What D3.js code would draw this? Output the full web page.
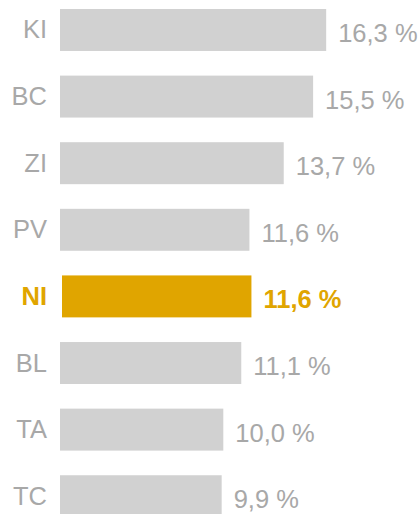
<!DOCTYPE html>
<html>
<head>
<meta charset="utf-8">
<script src="https://cdn.jsdelivr.net/npm/d3@7"></script>
<style>
  html, body { margin: 0; padding: 0; background: #fff; }
  svg { display: block; }
  text { font-family: "Liberation Sans", Arial, sans-serif; }
</style>
</head>
<body>
<svg id="chart" width="420" height="514"></svg>
<script>
// Share by region, in percent
const categories = ["KI", "BC", "ZI", "PV", "NI", "BL", "TA", "TC"];
const values = [16.3, 15.5, 13.7, 11.6, 11.6, 11.1, 10.0, 9.9];
const highlighted = "NI";

const data = categories.map((c, i) => ({ cat: c, value: values[i] }));

const svg = d3.select("#chart");

const barLeft = 60;
const x = d3.scaleLinear().domain([0, 20]).range([barLeft, barLeft + 20 * 16.33]);
const y = d3.scaleBand().domain(categories).range([9, 517.2]).paddingInner(0.37).paddingOuter(0);

const grey = "#d1d1d1";
const greyText = "#a8a8a8";
const gold = "#e0a500";
const fontSize = 25.5;

const locale = d3.formatLocale({ decimal: ",", thousands: " ", grouping: [3], currency: ["", ""] });
const fmt = v => locale.format(".1f")(v) + " %";

const isHi = d => d.cat === highlighted;
const hiShift = 2;

// bars
svg.append("g").selectAll("rect")
  .data(data)
  .join("rect")
  .attr("x", d => x(0) + (isHi(d) ? hiShift : 0))
  .attr("y", d => y(d.cat))
  .attr("width", d => x(d.value) - x(0))
  .attr("height", y.bandwidth())
  .attr("fill", d => isHi(d) ? gold : grey);

// category labels
svg.append("g").selectAll("text")
  .data(data)
  .join("text")
  .attr("x", 47)
  .attr("y", d => y(d.cat) + y.bandwidth() / 2 + 8.5)
  .attr("text-anchor", "end")
  .attr("font-size", fontSize)
  .attr("font-weight", d => isHi(d) ? "bold" : "normal")
  .attr("fill", d => isHi(d) ? gold : greyText)
  .text(d => d.cat);

// value labels
svg.append("g").selectAll("text")
  .data(data)
  .join("text")
  .attr("x", d => x(d.value) + (isHi(d) ? hiShift : 0) + 12)
  .attr("y", d => y(d.cat) + y.bandwidth() / 2 + 12)
  .attr("text-anchor", "start")
  .attr("font-size", fontSize)
  .attr("font-weight", d => isHi(d) ? "bold" : "normal")
  .attr("fill", d => isHi(d) ? gold : greyText)
  .text(d => fmt(d.value));
</script>
</body>
</html>
